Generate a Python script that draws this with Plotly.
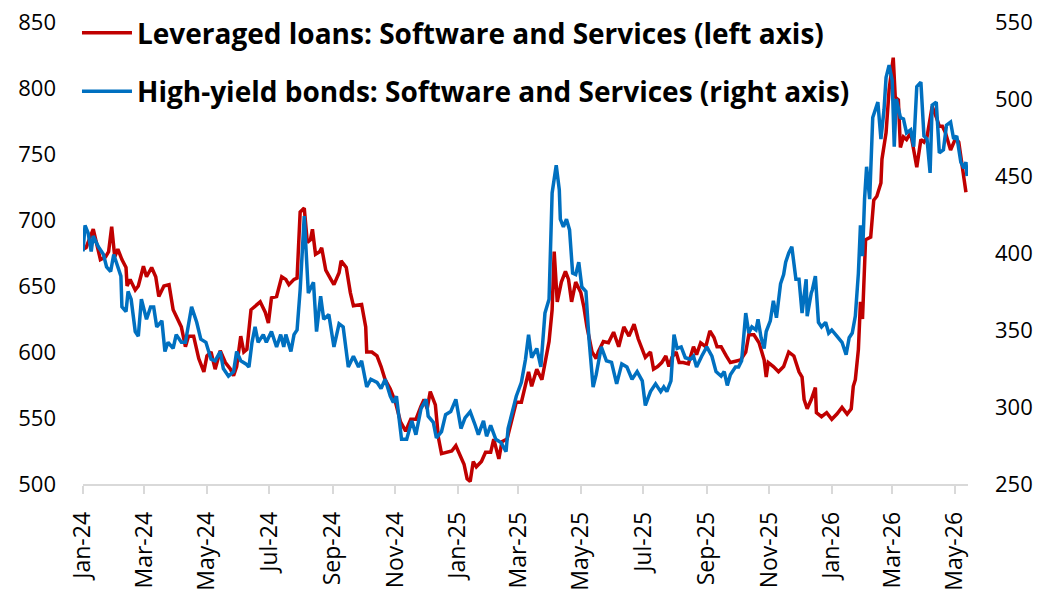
import pandas as pd
import plotly.graph_objects as go

# ---- data (days since 2024-01-01, index values) ----
start_date = "2024-01-01"

loans_days = [0, 3, 10, 13, 17, 22, 25, 28, 31, 34,
              38, 42, 43, 46, 51, 54, 59, 62, 67, 71,
              74, 79, 84, 88, 91, 96, 100, 103, 108, 113,
              118, 121, 125, 129, 134, 139, 144, 147, 150, 154,
              157, 160, 164, 168, 173, 178, 181, 184, 189, 194,
              198, 201, 206, 209, 212, 216, 219, 222, 224, 227,
              231, 233, 237, 242, 245, 250, 252, 257, 261, 264,
              269, 272, 276, 277, 282, 287, 291, 295, 300, 305,
              310, 315, 320, 325, 330, 333, 336, 339, 344, 347,
              350, 355, 360, 364, 369, 372, 375, 378, 381, 384,
              389, 393, 398, 401, 406, 409, 414, 417, 420, 423,
              428, 432, 435, 438, 443, 448, 452, 455, 458, 460,
              463, 467, 471, 474, 477, 481, 486, 489, 492, 497,
              501, 503, 508, 513, 518, 523, 528, 533, 538, 542,
              549, 554, 557, 561, 565, 569, 572, 575, 579, 582,
              586, 591, 596, 599, 603, 608, 612, 616, 619, 623,
              628, 632, 637, 642, 647, 650, 655, 660, 665, 667,
              669, 674, 679, 684, 689, 694, 699, 702, 704, 707,
              711, 715, 716, 721, 726, 731, 736, 741, 746, 750,
              752, 754, 757, 759, 761, 764, 769, 772, 775, 779,
              780, 784, 787, 791, 793, 796, 798, 801, 804, 808,
              811, 814, 818, 821, 824, 829, 833, 836, 839, 842,
              847, 852, 855, 858, 862]
loans_vals = [678, 679, 693, 684, 670, 672, 676, 695, 672, 678,
              670, 664, 650, 655, 647, 650, 665, 657, 664, 657,
              642, 650, 651, 632, 627, 619, 604, 612, 612, 595,
              585, 597, 600, 587, 601, 592, 587, 582, 589, 612,
              600, 602, 632, 635, 638, 630, 622, 641, 642, 657,
              655, 651, 655, 656, 706, 709, 683, 685, 693, 674,
              676, 679, 662, 655, 651, 660, 669, 664, 645, 635,
              636, 636, 619, 600, 600, 597, 589, 579, 572, 562,
              547, 540, 549, 549, 559, 564, 557, 570, 560, 535,
              523, 524, 525, 529, 521, 515, 504, 502, 517, 513,
              517, 524, 524, 534, 519, 532, 534, 544, 554, 562,
              562, 574, 585, 574, 587, 579, 597, 608, 632, 676,
              638, 653, 661, 655, 638, 653, 645, 634, 619, 600,
              595, 600, 608, 607, 615, 604, 619, 612, 621, 610,
              596, 600, 587, 589, 592, 597, 589, 596, 600, 592,
              592, 591, 604, 598, 607, 604, 616, 611, 604, 604,
              597, 592, 593, 594, 600, 613, 613, 607, 594, 581,
              592, 589, 585, 589, 600, 597, 585, 581, 564, 557,
              564, 573, 554, 551, 554, 549, 553, 558, 553, 557,
              574, 579, 602, 638, 625, 685, 687, 715, 718, 728,
              746, 766, 799, 823, 793, 791, 755, 763, 761, 766,
              753, 740, 761, 759, 763, 786, 778, 771, 771, 766,
              753, 762, 759, 743, 721]

bonds_days = [0, 2, 5, 8, 10, 15, 20, 23, 27, 30,
              33, 37, 38, 42, 44, 47, 51, 54, 57, 62,
              66, 69, 72, 77, 80, 83, 88, 91, 96, 100,
              106, 111, 115, 120, 125, 129, 134, 137, 142, 147,
              150, 154, 159, 162, 165, 168, 171, 176, 179, 184,
              189, 193, 196, 198, 203, 206, 209, 212, 216, 220,
              225, 228, 232, 235, 240, 245, 250, 254, 259, 264,
              269, 272, 277, 281, 287, 291, 295, 300, 303, 306,
              311, 316, 321, 325, 330, 335, 337, 342, 345, 350,
              354, 359, 364, 369, 373, 378, 383, 386, 391, 394,
              398, 403, 408, 413, 415, 418, 423, 428, 432, 435,
              438, 443, 447, 451, 455, 458, 460, 462, 465, 466,
              469, 472, 475, 478, 481, 484, 487, 491, 494, 498,
              501, 506, 511, 516, 521, 526, 531, 536, 541, 546,
              549, 554, 559, 564, 567, 570, 574, 577, 580, 584,
              588, 593, 596, 599, 604, 609, 614, 618, 623, 626,
              629, 632, 637, 640, 643, 647, 650, 653, 657, 659,
              662, 665, 667, 671, 674, 677, 681, 684, 686, 689,
              692, 696, 699, 702, 706, 707, 711, 712, 715, 718,
              721, 725, 728, 731, 736, 741, 745, 748, 751, 754,
              757, 759, 761, 763, 765, 768, 771, 776, 779, 782,
              784, 787, 790, 792, 794, 798, 801, 804, 808, 811,
              814, 818, 821, 824, 827, 829, 833, 836, 840, 843,
              847, 850, 853, 857, 860, 862, 863]
bonds_vals = [401, 418, 413, 401, 411, 404, 399, 391, 388, 399,
              393, 385, 365, 362, 375, 370, 349, 346, 370, 357,
              365, 365, 352, 356, 336, 342, 338, 347, 342, 342,
              365, 355, 344, 342, 331, 330, 336, 325, 320, 323,
              336, 330, 328, 326, 342, 352, 342, 347, 342, 349,
              339, 347, 339, 347, 336, 347, 350, 376, 424, 374,
              381, 349, 372, 357, 360, 339, 354, 352, 326, 333,
              326, 330, 313, 318, 316, 312, 318, 307, 303, 307,
              279, 279, 291, 282, 299, 305, 294, 290, 280, 284,
              295, 297, 305, 286, 293, 297, 288, 282, 291, 281,
              288, 279, 277, 271, 286, 294, 307, 316, 331, 347,
              332, 338, 326, 361, 370, 439, 450, 457, 441, 422,
              417, 422, 415, 387, 386, 394, 378, 375, 344, 313,
              321, 339, 330, 329, 315, 328, 326, 318, 323, 317,
              301, 310, 315, 310, 313, 310, 317, 347, 338, 339,
              332, 331, 333, 326, 333, 339, 333, 323, 320, 323,
              314, 321, 326, 326, 330, 361, 348, 352, 350, 357,
              345, 338, 349, 356, 369, 358, 380, 386, 394, 400,
              404, 383, 383, 361, 383, 359, 374, 376, 385, 355,
              352, 355, 348, 350, 346, 342, 334, 345, 348, 359,
              387, 418, 398, 435, 456, 435, 488, 498, 474, 493,
              514, 522, 512, 469, 500, 488, 487, 478, 480, 469,
              508, 511, 476, 474, 452, 496, 498, 465, 467, 483,
              485, 474, 476, 459, 455, 459, 450]

loans_name = "Leveraged loans: Software and Services (left axis)"
bonds_name = "High-yield bonds: Software and Services (right axis)"

x_range = ["2024-01-01", "2026-05-14"]
left_range = [500, 850]
right_range = [250, 550]

# ---- build ----
t0 = pd.Timestamp(start_date)
loans_dates = t0 + pd.to_timedelta(loans_days, unit="D")
bonds_dates = t0 + pd.to_timedelta(bonds_days, unit="D")

FONT = "Open Sans"

fig = go.Figure()
fig.add_trace(go.Scatter(
    x=loans_dates, y=loans_vals, name=loans_name, mode="lines",
    line=dict(color="#C00000", width=3.5), legendgroup="a", yaxis="y"))
fig.add_trace(go.Scatter(
    x=bonds_dates, y=bonds_vals, name=bonds_name, mode="lines",
    line=dict(color="#0070C0", width=3.5), legendgroup="b", yaxis="y2"))

ytickfont = dict(family=FONT, size=22, color="#000000")
xtickfont = dict(family=FONT, size=23, color="#000000")

# page body has an 8px margin, so the figure is sized to fit the window
fig.update_layout(
    width=1035, height=586,
    paper_bgcolor="white", plot_bgcolor="white",
    margin=dict(l=75, r=75, t=14, b=110, autoexpand=False),
    showlegend=True,
    legend=dict(x=-0.0068, y=1.030, xanchor="left", yanchor="top",
                bgcolor="rgba(0,0,0,0)", itemwidth=50,
                tracegroupgap=19,
                font=dict(family=FONT, size=28, color="#000000", weight="bold")),
    xaxis=dict(type="date", range=x_range, tick0="2024-01-01", dtick="M2",
               tickformat="%b-%y", tickangle=-90, tickfont=xtickfont,
               ticks="outside", ticklen=8, tickcolor="#D9D9D9", tickwidth=1.5,
               showline=True, linecolor="#D9D9D9", linewidth=1.5,
               showgrid=False, zeroline=False, automargin=False,
               ticklabelstandoff=9, ticklabeloverflow="allow"),
    yaxis=dict(range=left_range, dtick=50, tickfont=ytickfont,
               showgrid=False, zeroline=False, showline=False, ticks="",
               ticklabelstandoff=26, automargin=False,
               ticklabeloverflow="allow"),
    yaxis2=dict(range=right_range, dtick=50, tickfont=ytickfont, overlaying="y",
                side="right", showgrid=False, zeroline=False, showline=False,
                ticks="", ticklabelstandoff=26, automargin=False,
                ticklabeloverflow="allow"),
)

fig.write_html("out.html")
